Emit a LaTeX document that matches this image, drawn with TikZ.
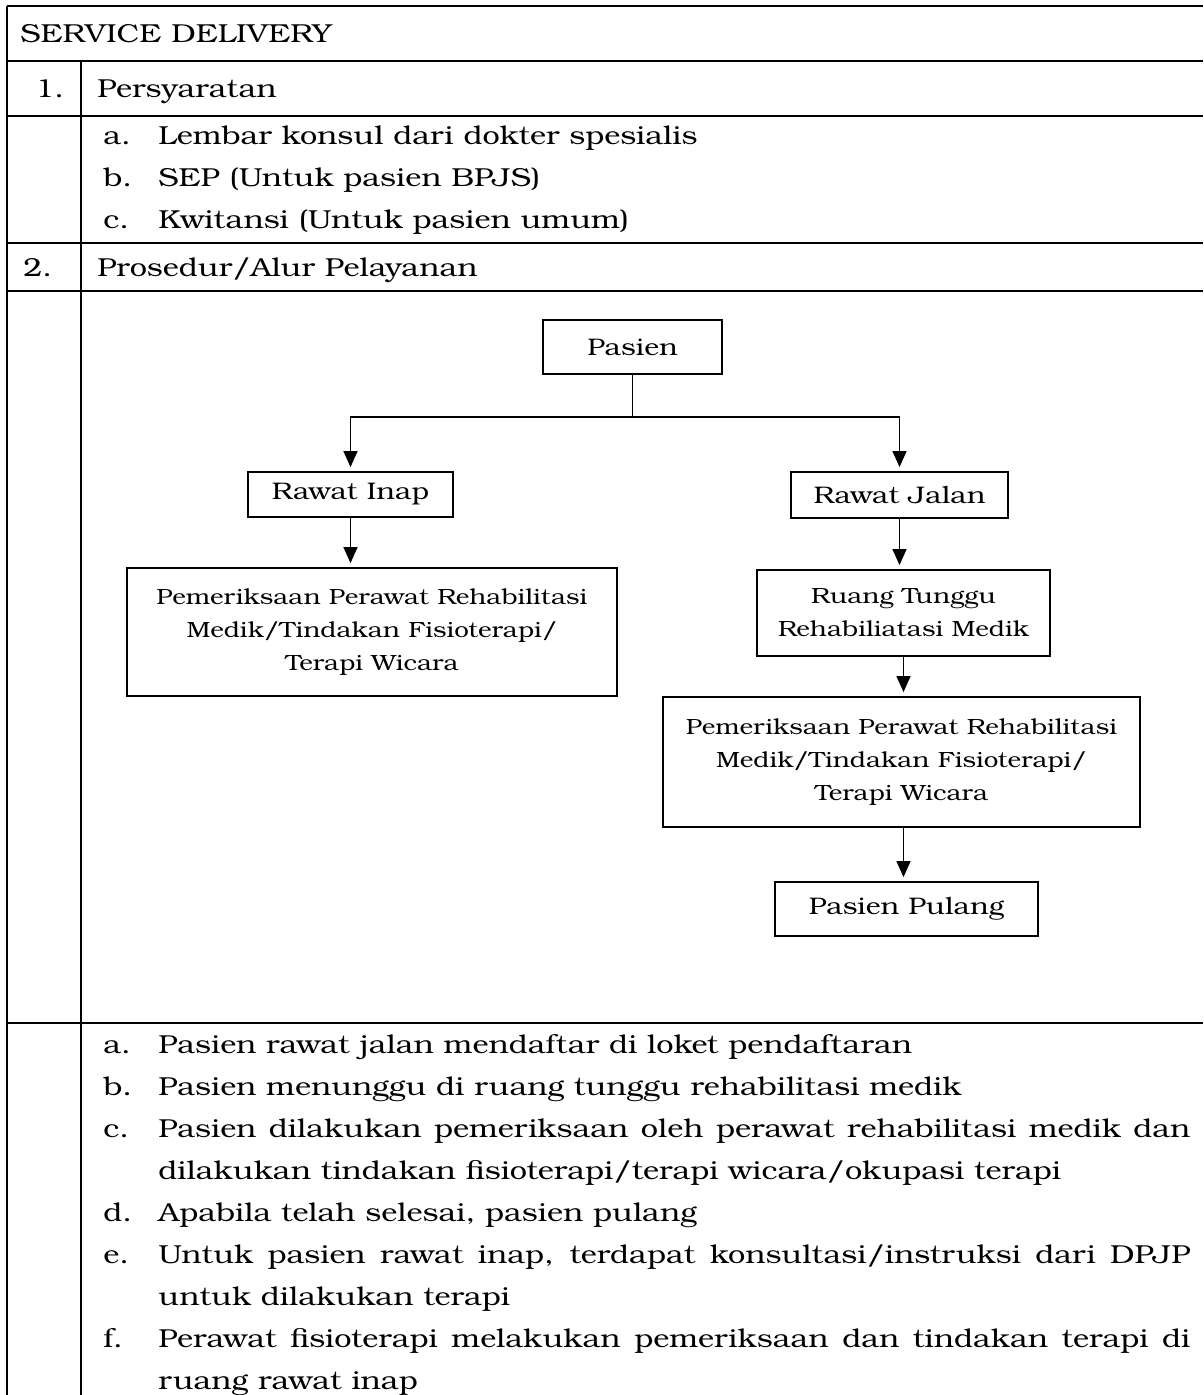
\documentclass[tikz,border=0pt]{standalone}
\usepackage{fontspec}
\setmainfont[FakeStretch=1.18]{TeX Gyre Bonum}
\usetikzlibrary{arrows.meta}
\begin{document}
\begin{tikzpicture}[x=0.5pt,y=-0.5pt,
  tbl/.style={line width=1pt},
  body/.style={font=\fontsize{13pt}{16pt}\selectfont, inner sep=0pt, anchor=base west},
  box/.style={draw, line width=0.9pt, align=center, inner sep=0pt, font=\fontsize{12pt}{16pt}\selectfont},
  smallbox/.style={box, font=\fontsize{11pt}{16.5pt}\selectfont},
  arr/.style={line width=0.7pt, -{Triangle[length=8pt,width=7pt]}, shorten >=2pt}]
\useasboundingbox (0,0) rectangle (1203,1395);
% table lines
\draw[tbl] (7,6) -- (1203,6);
\draw[tbl] (7,6) -- (7,1395);
\draw[tbl] (81,61) -- (81,1395);
\foreach \yy in {61,116,243,291,1023} \draw[tbl] (7,\yy) -- (1203,\yy);
% header and sections
\node[body] (hdr) at (20,43) {SERVICE DELIVERY};
\node[body] (n1) at (35,98) {1.};
\node[body] (s1) at (97,98) {Persyaratan};
\node[body] (la) at (103,145) {a.};
\node[body] (ta) at (158,145) {Lembar konsul dari dokter spesialis};
\node[body] (lb) at (103,187) {b.};
\node[body] (tb) at (158,187) {SEP (Untuk pasien BPJS)};
\node[body] (lc) at (103,229) {c.};
\node[body] (tc) at (158,229) {Kwitansi (Untuk pasien umum)};
\node[body] (n2) at (23,277) {2.};
\node[body] (s2) at (97,277) {Prosedur/Alur Pelayanan};
% flowchart
\node[box, minimum width=89.5pt, minimum height=27pt] (pasien) at (632.5,347) {Pasien};
\node[box, minimum width=102.5pt, minimum height=22.5pt] (rinap) at (350.5,494.5) {Rawat Inap};
\node[box, minimum width=108.5pt, minimum height=23pt] (rjalan) at (899.5,495) {Rawat Jalan};
\node[smallbox, minimum width=245pt, minimum height=64pt] (peml) at (372,632) {Pemeriksaan Perawat Rehabilitasi\\Medik/Tindakan Fisioterapi/\\Terapi Wicara};
\node[smallbox, minimum width=146.5pt, minimum height=43pt] (ruang) at (903.5,613) {Ruang Tunggu\\Rehabiliatasi Medik};
\node[smallbox, minimum width=238.5pt, minimum height=65pt] (pemr) at (901.5,762) {Pemeriksaan Perawat Rehabilitasi\\Medik/Tindakan Fisioterapi/\\Terapi Wicara};
\node[box, minimum width=131.5pt, minimum height=27pt] (pulang) at (906.5,909) {Pasien Pulang};
\coordinate (split) at (632.5,417);
\draw[line width=0.7pt] (pasien.south) -- (split);
\draw[arr] (split) -| (rinap.north);
\draw[arr] (split) -| (rjalan.north);
\draw[arr] (rinap.south) -- (peml.north -| rinap.south);
\draw[arr] (rjalan.south) -- (ruang.north -| rjalan.south);
\draw[arr] (ruang.south) -- (pemr.north -| ruang.south);
\draw[arr] (pemr.south -| ruang.south) -- (pulang.north -| ruang.south);
% bottom list
\node[body] (ba) at (103,1053) {a.};
\node[body] (bta) at (158,1053) {Pasien rawat jalan mendaftar di loket pendaftaran};
\node[body] (bb) at (103,1095) {b.};
\node[body] (btb) at (158,1095) {Pasien menunggu di ruang tunggu rehabilitasi medik};
\node[body] (bc) at (103,1137) {c.};
\node[body] (btc) at (158,1137) {\makebox[516pt][s]{Pasien dilakukan pemeriksaan oleh perawat rehabilitasi medik dan}};
\node[body] (btc2) at (158,1179) {dilakukan tindakan fisioterapi/terapi wicara/okupasi terapi};
\node[body] (bd) at (103,1221) {d.};
\node[body] (btd) at (158,1221) {Apabila telah selesai, pasien pulang};
\node[body] (be) at (103,1263) {e.};
\node[body] (bte) at (158,1263) {\makebox[516pt][s]{Untuk pasien rawat inap, terdapat konsultasi/instruksi dari DPJP}};
\node[body] (bte2) at (158,1305) {untuk dilakukan terapi};
\node[body] (bf) at (103,1347) {f.};
\node[body] (btf) at (158,1347) {\makebox[516pt][s]{Perawat fisioterapi melakukan pemeriksaan dan tindakan terapi di}};
\node[body] (btf2) at (158,1389) {ruang rawat inap};
\end{tikzpicture}
\end{document}
